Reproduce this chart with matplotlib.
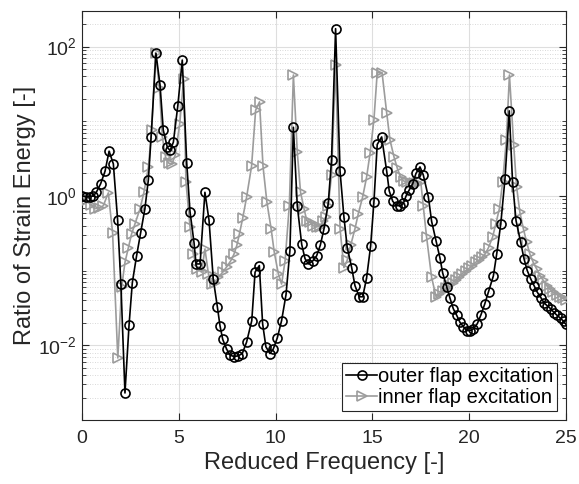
import matplotlib
matplotlib.use("Agg")
import matplotlib.pyplot as plt
from matplotlib.ticker import LogLocator, NullFormatter, FixedLocator

# outer flap excitation (black circles)
outer_k = [0.0, 0.2, 0.41, 0.58, 0.74, 0.96, 1.19, 1.4, 1.62, 1.84, 2.01, 2.22,
           2.43, 2.6, 2.82, 3.03, 3.25, 3.43, 3.57, 3.82, 4.03, 4.2, 4.41, 4.55,
           4.72, 4.95, 5.18, 5.41, 5.58, 5.79, 5.89, 6.1, 6.35, 6.56, 6.78, 6.99,
           7.13, 7.27, 7.47, 7.64, 7.85, 8.07, 8.28, 8.5, 8.77, 8.94, 9.16, 9.33,
           9.5, 9.71, 9.88, 10.09, 10.31, 10.54, 10.74, 10.92, 11.12, 11.35, 11.52,
           11.69, 11.92, 12.12, 12.31, 12.5, 12.72, 12.89, 13.1, 13.33, 13.53, 13.7,
           13.93, 14.1, 14.32, 14.5, 14.7, 14.91, 15.08, 15.25, 15.48, 15.74, 15.87,
           16.05, 16.25, 16.43, 16.6, 16.74, 16.9, 17.08, 17.25, 17.46, 17.63, 17.89,
           18.06, 18.29, 18.49, 18.63, 18.84, 19.01, 19.18, 19.36, 19.52, 19.7,
           19.87, 20.04, 20.21, 20.42, 20.61, 20.8, 21.0, 21.25, 21.42, 21.63, 21.85,
           22.07, 22.24, 22.42, 22.66, 22.83, 23.0, 23.18, 23.35, 23.52, 23.7, 23.86,
           24.03, 24.21, 24.38, 24.55, 24.73, 24.88, 25.0]
outer_ratio = [1.0, 0.98, 0.98, 1.0, 1.12, 1.45, 2.14, 3.98, 2.69, 0.48, 0.066, 0.0023,
               0.0186, 0.069, 0.158, 0.324, 0.676, 1.66, 6.17, 81.3, 30.9, 7.59, 4.47, 4.07,
               5.25, 16.2, 66.1, 2.75, 0.617, 0.234, 0.123, 0.123, 1.12, 0.479, 0.0776, 0.0331,
               0.0182, 0.012, 0.00891, 0.00741, 0.00708, 0.00724, 0.00776, 0.011, 0.0214, 0.0955, 0.117, 0.0195,
               0.00955, 0.00776, 0.00891, 0.0126, 0.0214, 0.0479, 0.186, 8.32, 0.741, 0.224, 0.145,
               0.123, 0.135, 0.158, 0.219, 0.363, 0.794, 3.02, 174.0, 2.14, 0.525, 0.204,
               0.110, 0.0631, 0.0447, 0.0447, 0.0794, 0.214, 0.832, 4.90, 6.17, 2.14, 1.17,
               0.851, 0.741, 0.741, 0.794, 1.0, 1.20, 1.45, 2.0, 2.45, 1.91, 0.977,
               0.457, 0.251, 0.148, 0.0933, 0.0603, 0.0427, 0.0309, 0.0251, 0.0204, 0.0178,
               0.0158, 0.0158, 0.0166, 0.0195, 0.0257, 0.0355, 0.0525, 0.0851, 0.166, 0.417, 1.70,
               13.8, 1.55, 0.468, 0.240, 0.145, 0.100, 0.0776, 0.0631, 0.0513, 0.0437, 0.0372,
               0.0339, 0.0309, 0.0275, 0.0251, 0.0229, 0.0209, 0.0191]

# inner flap excitation (grey triangles)
inner_k = [0.0, 0.24, 0.45, 0.67, 0.9, 1.1, 1.36, 1.58, 1.85, 2.05, 2.22, 2.4, 2.56,
           2.74, 3.0, 3.2, 3.43, 3.6, 3.8, 4.0, 4.15, 4.32, 4.48, 4.65, 4.82, 5.05,
           5.25, 5.37, 5.58, 5.75, 5.96, 6.18, 6.35, 6.53, 6.7, 6.87, 7.04, 7.27, 7.47,
           7.68, 7.85, 8.0, 8.13, 8.3, 8.5, 8.76, 8.97, 9.17, 9.35, 9.55, 9.77, 9.93,
           10.14, 10.31, 10.49, 10.71, 10.92, 11.12, 11.29, 11.47, 11.61, 11.78, 11.95,
           12.12, 12.29, 12.46, 12.6, 12.72, 12.89, 13.1, 13.33, 13.53, 13.7, 13.88,
           14.1, 14.27, 14.5, 14.7, 14.88, 15.08, 15.25, 15.5, 15.74, 15.91, 16.12,
           16.29, 16.46, 16.63, 16.8, 16.97, 17.15, 17.33, 17.5, 17.63, 17.8, 18.06,
           18.29, 18.46, 18.63, 18.8, 18.97, 19.14, 19.31, 19.48, 19.65, 19.82, 19.99,
           20.16, 20.33, 20.5, 20.65, 20.82, 21.0, 21.21, 21.38, 21.56, 21.73, 21.92,
           22.08, 22.3, 22.45, 22.62, 22.8, 22.97, 23.14, 23.31, 23.49, 23.66, 23.83,
           24.0, 24.17, 24.34, 24.52, 24.7, 24.85, 25.0]
inner_ratio = [0.955, 0.871, 0.759, 0.676, 0.692, 0.741, 1.10, 0.324, 0.00676, 0.0603, 0.129, 0.204, 0.309,
               0.427, 0.676, 1.12, 2.45, 7.59, 83.2, 27.5, 6.17, 3.31, 2.75, 2.69, 3.55, 9.33,
               36.3, 1.55, 0.389, 0.166, 0.105, 0.0955, 0.195, 0.0912, 0.0661, 0.0676, 0.0813, 0.0955, 0.112,
               0.135, 0.166, 0.219, 0.309, 0.501, 0.955, 2.51, 14.1, 18.2, 2.51, 0.832, 0.363, 0.178,
               0.0912, 0.0661, 0.135, 0.741, 41.7, 3.89, 1.12, 0.676, 0.468, 0.447, 0.398,
               0.389, 0.389, 0.468, 0.525, 0.741, 1.91, 57.5, 0.363, 0.110, 0.138, 0.219,
               0.363, 0.575, 0.977, 1.78, 3.72, 10.5, 44.7, 44.7, 12.9, 5.62, 3.31,
               2.34, 1.78, 1.58, 1.55, 1.51, 1.48, 1.48, 1.55, 0.724, 0.282, 0.0813,
               0.0447, 0.049, 0.0537, 0.0589, 0.0646, 0.0692, 0.0759, 0.0832, 0.0912, 0.100, 0.107,
               0.117, 0.129, 0.138, 0.151, 0.166, 0.204, 0.282, 0.427, 0.676, 1.55, 5.62,
               41.7, 4.79, 1.32, 0.603, 0.363, 0.240, 0.166, 0.129, 0.105, 0.0851, 0.0741,
               0.0631, 0.0562, 0.0513, 0.0479, 0.0447, 0.0427, 0.0407]

AX_C = "#262626"
GREY = "#9c9c9c"

plt.rcParams["font.family"] = ["Liberation Sans", "DejaVu Sans"]
plt.rcParams["mathtext.fontset"] = "custom"
plt.rcParams["mathtext.rm"] = "Liberation Sans"

fig = plt.figure(figsize=(5.79, 4.84), dpi=100)
ax = fig.add_axes([0.1416, 0.1322, 0.8359, 0.8451])

ax.plot(outer_k, outer_ratio, "-o", color="k", lw=1.2, ms=6.5, mfc="none",
        mew=1.2, label="outer flap excitation", zorder=4)
ax.plot(inner_k, inner_ratio, "->", color=GREY, lw=1.2, ms=7, mfc="none",
        mew=1.2, label="inner flap excitation", zorder=3)

ax.set_yscale("log")
ax.set_xlim(0, 25)
ax.set_ylim(1e-3, 3e2)
ax.set_xticks([0, 5, 10, 15, 20, 25])
ax.yaxis.set_major_locator(FixedLocator([1e-2, 1e0, 1e2]))
ax.yaxis.set_minor_locator(LogLocator(base=10, subs=range(1, 10), numticks=20))
ax.yaxis.set_minor_formatter(NullFormatter())

ax.grid(True, which="major", color="#dedede", lw=0.8, ls="-")
ax.grid(True, which="minor", axis="y", color="#cccccc", lw=0.6, ls=(0, (1, 2)))
ax.set_axisbelow(True)

ax.tick_params(which="both", direction="in", top=True, right=True,
               colors=AX_C, labelsize=14)
ax.tick_params(which="major", length=5, width=0.8)
ax.tick_params(axis="x", which="major", pad=7)
ax.tick_params(which="minor", length=3, width=0.6)
for s in ax.spines.values():
    s.set_color(AX_C)
    s.set_linewidth(0.8)

ax.set_xlabel("Reduced Frequency [-]", fontsize=17, color=AX_C, labelpad=4)
ax.set_ylabel("Ratio of Strain Energy [-]", fontsize=17, color=AX_C, labelpad=2)

leg = ax.legend(loc="lower right", fontsize=14.5, handlelength=1.5,
                handletextpad=0.05, borderpad=0.2, labelspacing=0.1,
                borderaxespad=0.45, fancybox=False, framealpha=1)
leg.get_frame().set_edgecolor(AX_C)
leg.get_frame().set_linewidth(0.8)

fig.savefig("out.png", dpi=100)
